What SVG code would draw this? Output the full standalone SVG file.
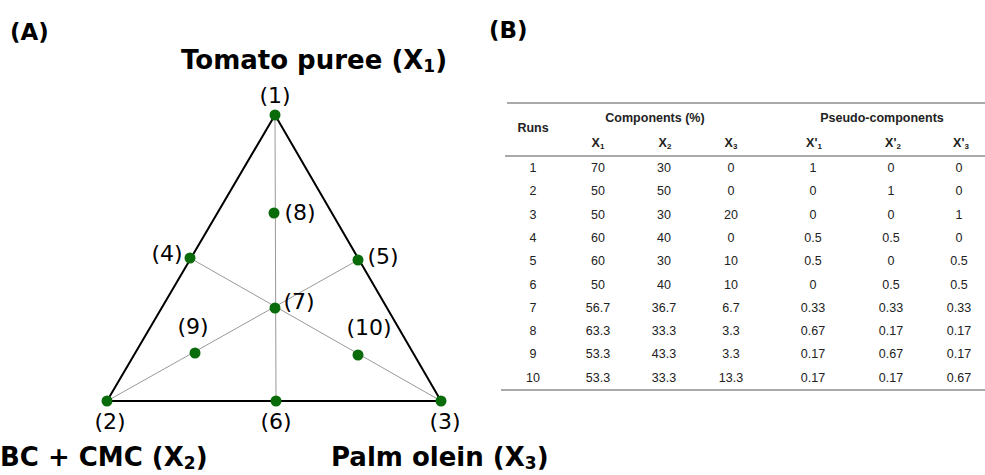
<svg xmlns="http://www.w3.org/2000/svg" width="985" height="475" viewBox="0 0 985 475">
<style>
.edge{stroke:#000;stroke-width:2;fill:none}
.thin{stroke:#999;stroke-width:1;fill:none}
.pt{fill:#0a6b0a}
.lab{font-family:"DejaVu Sans",Verdana,sans-serif;font-size:22px;fill:#000;text-anchor:middle}
.big{font-family:"DejaVu Sans",Verdana,sans-serif;font-size:26px;font-weight:bold;fill:#000}
.hd{font-family:"DejaVu Sans",Verdana,sans-serif;font-size:23px;font-weight:bold;fill:#000}
.t{font-family:"Liberation Sans",Arial,sans-serif;font-size:12.5px;fill:#222;text-anchor:middle}
.tb{font-family:"Liberation Sans",Arial,sans-serif;font-size:12.5px;font-weight:bold;fill:#222;text-anchor:middle}
.rule{stroke:#555;stroke-width:1}
</style>
<rect width="985" height="475" fill="#fff"/>
<text class="hd" x="10" y="40">(A)</text>
<text class="hd" x="489" y="38">(B)</text>
<text class="big" x="181" y="69">Tomato puree (X<tspan font-size="17" dy="3">1</tspan><tspan dy="-3">)</tspan></text>
<text class="big" x="0" y="466">BC + CMC (X<tspan font-size="17" dy="3">2</tspan><tspan dy="-3">)</tspan></text>
<text class="big" x="331" y="466">Palm olein (X<tspan font-size="17" dy="3">3</tspan><tspan dy="-3">)</tspan></text>
<g id="connectors">
<line class="thin" x1="275" y1="115" x2="276" y2="401"/>
<line class="thin" x1="190" y1="258" x2="441" y2="401"/>
<line class="thin" x1="358" y1="260" x2="107" y2="401"/>
<polygon class="edge" points="275,115 107,401 441,401"/>
</g>
<g id="n1"><circle class="pt" cx="275" cy="115" r="5.5"/><text class="lab" x="275" y="103">(1)</text></g>
<g id="n2"><circle class="pt" cx="107" cy="401" r="5.5"/><text class="lab" x="110" y="429">(2)</text></g>
<g id="n3"><circle class="pt" cx="441" cy="401" r="5.5"/><text class="lab" x="445" y="429">(3)</text></g>
<g id="n4"><circle class="pt" cx="190" cy="258" r="5.5"/><text class="lab" x="167" y="261">(4)</text></g>
<g id="n5"><circle class="pt" cx="358" cy="260" r="5.5"/><text class="lab" x="383" y="264">(5)</text></g>
<g id="n6"><circle class="pt" cx="276" cy="401" r="5.5"/><text class="lab" x="276" y="429">(6)</text></g>
<g id="n7"><circle class="pt" cx="275" cy="308" r="5.5"/><text class="lab" x="299" y="309">(7)</text></g>
<g id="n8"><circle class="pt" cx="274" cy="213" r="5.5"/><text class="lab" x="300" y="220">(8)</text></g>
<g id="n9"><circle class="pt" cx="195" cy="353" r="5.5"/><text class="lab" x="193" y="334">(9)</text></g>
<g id="n10"><circle class="pt" cx="358" cy="355" r="5.5"/><text class="lab" x="369" y="335">(10)</text></g>
<g id="table">
<line class="rule" x1="507" y1="103" x2="985" y2="103"/>
<line class="rule" x1="505" y1="156" x2="985" y2="156"/>
<line class="rule" x1="501" y1="390" x2="985" y2="390"/>
<text class="tb" x="533" y="132">Runs</text>
<text class="tb" x="655" y="122">Components (%)</text>
<text class="tb" x="882" y="122">Pseudo-components</text>
<text class="tb" x="598" y="147">X<tspan font-size="8" dy="2">1</tspan></text>
<text class="tb" x="665" y="147">X<tspan font-size="8" dy="2">2</tspan></text>
<text class="tb" x="731" y="147">X<tspan font-size="8" dy="2">3</tspan></text>
<text class="tb" x="814" y="147">X'<tspan font-size="8" dy="2">1</tspan></text>
<text class="tb" x="893" y="147">X'<tspan font-size="8" dy="2">2</tspan></text>
<text class="tb" x="961" y="147">X'<tspan font-size="8" dy="2">3</tspan></text>
<g transform="translate(0,172)">
<text class="t" x="533" y="0">1</text><text class="t" x="598" y="0">70</text><text class="t" x="664" y="0">30</text><text class="t" x="731" y="0">0</text><text class="t" x="813" y="0">1</text><text class="t" x="891" y="0">0</text><text class="t" x="959" y="0">0</text>
</g>
<g transform="translate(0,195.3)">
<text class="t" x="533" y="0">2</text><text class="t" x="598" y="0">50</text><text class="t" x="664" y="0">50</text><text class="t" x="731" y="0">0</text><text class="t" x="813" y="0">0</text><text class="t" x="891" y="0">1</text><text class="t" x="959" y="0">0</text>
</g>
<g transform="translate(0,218.6)">
<text class="t" x="533" y="0">3</text><text class="t" x="598" y="0">50</text><text class="t" x="664" y="0">30</text><text class="t" x="731" y="0">20</text><text class="t" x="813" y="0">0</text><text class="t" x="891" y="0">0</text><text class="t" x="959" y="0">1</text>
</g>
<g transform="translate(0,241.9)">
<text class="t" x="533" y="0">4</text><text class="t" x="598" y="0">60</text><text class="t" x="664" y="0">40</text><text class="t" x="731" y="0">0</text><text class="t" x="813" y="0">0.5</text><text class="t" x="891" y="0">0.5</text><text class="t" x="959" y="0">0</text>
</g>
<g transform="translate(0,265.2)">
<text class="t" x="533" y="0">5</text><text class="t" x="598" y="0">60</text><text class="t" x="664" y="0">30</text><text class="t" x="731" y="0">10</text><text class="t" x="813" y="0">0.5</text><text class="t" x="891" y="0">0</text><text class="t" x="959" y="0">0.5</text>
</g>
<g transform="translate(0,288.5)">
<text class="t" x="533" y="0">6</text><text class="t" x="598" y="0">50</text><text class="t" x="664" y="0">40</text><text class="t" x="731" y="0">10</text><text class="t" x="813" y="0">0</text><text class="t" x="891" y="0">0.5</text><text class="t" x="959" y="0">0.5</text>
</g>
<g transform="translate(0,311.8)">
<text class="t" x="533" y="0">7</text><text class="t" x="598" y="0">56.7</text><text class="t" x="664" y="0">36.7</text><text class="t" x="731" y="0">6.7</text><text class="t" x="813" y="0">0.33</text><text class="t" x="891" y="0">0.33</text><text class="t" x="959" y="0">0.33</text>
</g>
<g transform="translate(0,335.1)">
<text class="t" x="533" y="0">8</text><text class="t" x="598" y="0">63.3</text><text class="t" x="664" y="0">33.3</text><text class="t" x="731" y="0">3.3</text><text class="t" x="813" y="0">0.67</text><text class="t" x="891" y="0">0.17</text><text class="t" x="959" y="0">0.17</text>
</g>
<g transform="translate(0,358.4)">
<text class="t" x="533" y="0">9</text><text class="t" x="598" y="0">53.3</text><text class="t" x="664" y="0">43.3</text><text class="t" x="731" y="0">3.3</text><text class="t" x="813" y="0">0.17</text><text class="t" x="891" y="0">0.67</text><text class="t" x="959" y="0">0.17</text>
</g>
<g transform="translate(0,381.7)">
<text class="t" x="533" y="0">10</text><text class="t" x="598" y="0">53.3</text><text class="t" x="664" y="0">33.3</text><text class="t" x="731" y="0">13.3</text><text class="t" x="813" y="0">0.17</text><text class="t" x="891" y="0">0.17</text><text class="t" x="959" y="0">0.67</text>
</g>
</g>
</svg>
